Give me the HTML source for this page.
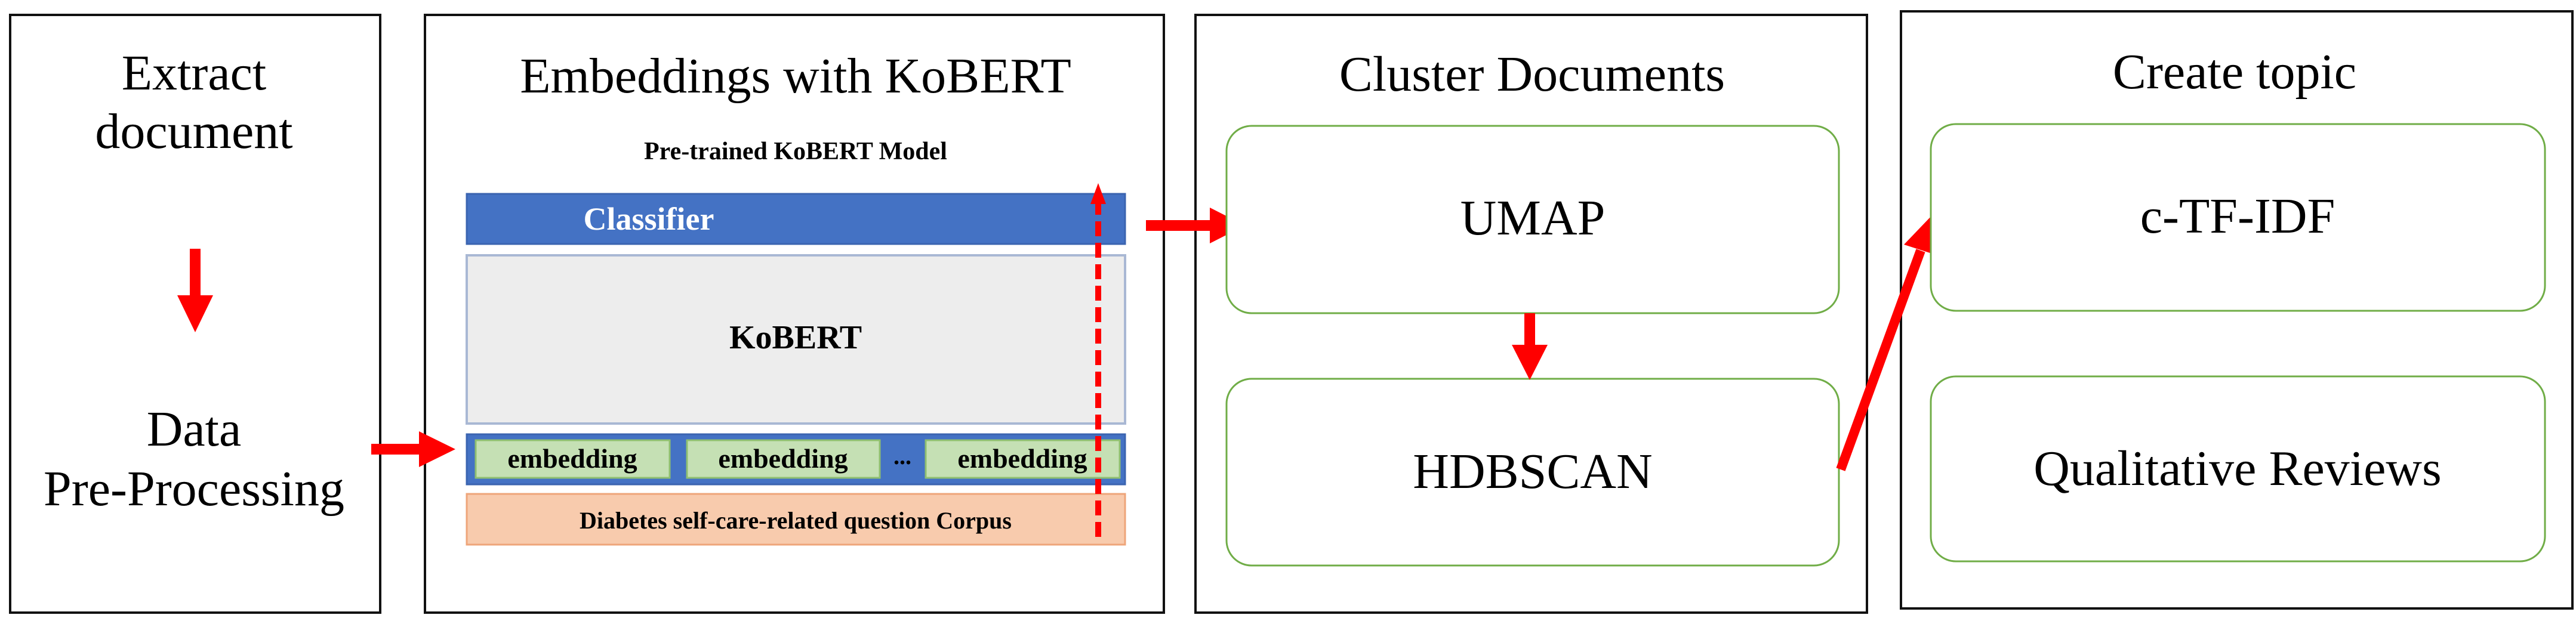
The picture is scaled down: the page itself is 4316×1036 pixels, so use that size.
<!DOCTYPE html>
<html><head><meta charset="utf-8"><style>
html,body{margin:0;padding:0;background:#fff}
svg{display:block}
</style></head><body>
<svg width="4316" height="1036" viewBox="0 0 4316 1036" xmlns="http://www.w3.org/2000/svg" font-family="'Liberation Serif', serif">
<rect x="17" y="25" width="620" height="1002" fill="none" stroke="#111" stroke-width="4"/>
<rect x="712" y="25" width="1238" height="1002" fill="none" stroke="#111" stroke-width="4"/>
<rect x="2003" y="25" width="1125" height="1002" fill="none" stroke="#111" stroke-width="4"/>
<rect x="3185" y="19" width="1125" height="1001" fill="none" stroke="#111" stroke-width="4"/>

<text x="325" y="150" font-size="84" text-anchor="middle" font-family="'Liberation Serif', serif">Extract</text>
<text x="325" y="248" font-size="84" text-anchor="middle" font-family="'Liberation Serif', serif">document</text>
<rect x="318" y="417" width="18" height="82" fill="#f00"/>
<polygon points="297,495 357,495 327,557" fill="#f00"/>
<text x="325" y="747" font-size="84" text-anchor="middle" font-family="'Liberation Serif', serif">Data</text>
<text x="325" y="847" font-size="84" text-anchor="middle" font-family="'Liberation Serif', serif">Pre-Processing</text>
<rect x="622" y="744" width="84" height="18" fill="#f00"/>
<polygon points="702,723 702,783 763,753" fill="#f00"/>

<text x="1333" y="155" font-size="84" text-anchor="middle" font-family="'Liberation Serif', serif">Embeddings  with  KoBERT</text>
<text x="1333" y="267" font-size="42" font-weight="bold" text-anchor="middle" font-family="'Liberation Serif', serif">Pre-trained KoBERT Model</text>
<rect x="782" y="325" width="1103" height="84" fill="#4472c4" stroke="#3b64b0" stroke-width="3"/>
<text x="1087" y="385" font-size="54" font-weight="bold" fill="#fff" text-anchor="middle" font-family="'Liberation Serif', serif">Classifier</text>
<rect x="782" y="428" width="1103" height="282" fill="#ededed" stroke="#a9b8d4" stroke-width="4"/>
<text x="1333" y="584" font-size="56" font-weight="bold" text-anchor="middle" font-family="'Liberation Serif', serif">KoBERT</text>
<rect x="782" y="728" width="1103" height="84" fill="#4472c4" stroke="#3b64b0" stroke-width="3"/>
<rect x="797" y="738" width="325" height="63" fill="#c5e0b4" stroke="#8fbf70" stroke-width="3"/>
<rect x="1151" y="738" width="323" height="63" fill="#c5e0b4" stroke="#8fbf70" stroke-width="3"/>
<rect x="1551" y="738" width="325" height="63" fill="#c5e0b4" stroke="#8fbf70" stroke-width="3"/>
<text x="959" y="784" font-size="46" font-weight="bold" text-anchor="middle" font-family="'Liberation Serif', serif">embedding</text>
<text x="1312" y="784" font-size="46" font-weight="bold" text-anchor="middle" font-family="'Liberation Serif', serif">embedding</text>
<text x="1512" y="778" font-size="40" font-weight="bold" text-anchor="middle" font-family="'Liberation Serif', serif">...</text>
<text x="1713" y="784" font-size="46" font-weight="bold" text-anchor="middle" font-family="'Liberation Serif', serif">embedding</text>
<rect x="782" y="828" width="1103" height="85" fill="#f8cbad" stroke="#eea57a" stroke-width="3"/>
<text x="1333" y="886" font-size="40" font-weight="bold" text-anchor="middle" font-family="'Liberation Serif', serif">Diabetes self-care-related question Corpus</text>
<line x1="1840" y1="900" x2="1840" y2="340" stroke="#f00" stroke-width="10" stroke-dasharray="25,11"/>
<polygon points="1827,342 1853,342 1840,307" fill="#f00"/>
<rect x="1920" y="369" width="110" height="18" fill="#f00"/>
<polygon points="2027,348 2027,408 2086,378" fill="#f00"/>

<text x="2567" y="152" font-size="84" text-anchor="middle" font-family="'Liberation Serif', serif">Cluster Documents</text>
<rect x="2055" y="211" width="1026" height="314" rx="42" fill="#fff" stroke="#70ad47" stroke-width="3"/>
<text x="2568" y="393" font-size="84" text-anchor="middle" font-family="'Liberation Serif', serif">UMAP</text>
<rect x="2055" y="635" width="1026" height="313" rx="42" fill="#fff" stroke="#70ad47" stroke-width="3"/>
<text x="2568" y="818" font-size="84" text-anchor="middle" font-family="'Liberation Serif', serif">HDBSCAN</text>
<rect x="2554" y="525" width="18" height="56" fill="#f00"/>
<polygon points="2533,578 2593,578 2563,637" fill="#f00"/>
<line x1="3084" y1="787" x2="3218" y2="420" stroke="#f00" stroke-width="16"/>
<polygon points="3190,410 3246,428 3235,363" fill="#f00"/>

<text x="3744" y="148" font-size="84" text-anchor="middle" font-family="'Liberation Serif', serif">Create topic</text>
<rect x="3235" y="208" width="1029" height="313" rx="42" fill="#fff" stroke="#70ad47" stroke-width="3"/>
<text x="3749" y="390" font-size="84" text-anchor="middle" font-family="'Liberation Serif', serif">c-TF-IDF</text>
<rect x="3235" y="631" width="1029" height="310" rx="42" fill="#fff" stroke="#70ad47" stroke-width="3"/>
<text x="3749" y="813" font-size="84" text-anchor="middle" font-family="'Liberation Serif', serif">Qualitative  Reviews</text>
</svg>
</body></html>
